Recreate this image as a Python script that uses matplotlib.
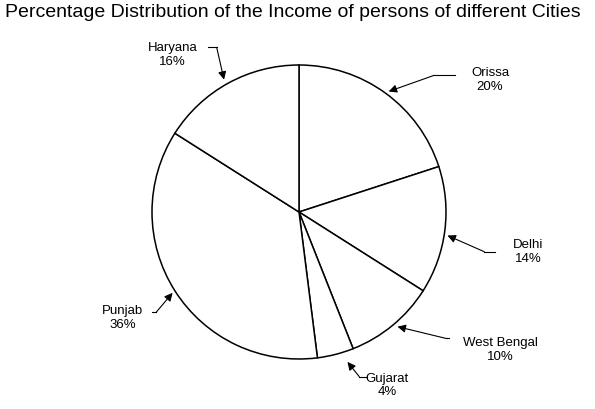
import matplotlib
matplotlib.use("Agg")
import matplotlib.pyplot as plt

cities = ["Orissa", "Delhi", "West Bengal", "Gujarat", "Punjab", "Haryana"]
shares = [20, 14, 10, 4, 36, 16]

fig = plt.figure(figsize=(5.95, 4.09), dpi=100)
fig.text(0.008, 0.99, "Percentage Distribution of the Income of persons of different Cities",
         fontsize=14, va="top", ha="left", family="Liberation Sans")
ax = fig.add_axes([(299-147)/595, (197-147)/409, 294/595, 294/409])
ax.pie(shares, startangle=90, counterclock=False, radius=1,
       colors=["white"]*len(shares), wedgeprops=dict(edgecolor="black", linewidth=1.1))
ax.set_xlim(-1, 1); ax.set_ylim(-1, 1); ax.set_aspect("equal"); ax.axis("off")

text_pos = [(1.30, 0.90), (1.56, -0.27), (1.37, -0.94), (0.60, -1.18), (-1.20, -0.72), (-0.86, 1.07)]
line_start = [(1.06, 0.93), (1.33, -0.27), (1.02, -0.86), (0.46, -1.12), (-1.00, -0.68), (-0.62, 1.12)]
elbow = [(0.92, 0.93), (1.26, -0.27), (1.00, -0.86), (0.41, -1.12), (-0.97, -0.68), (-0.56, 1.12)]
arrow_pos = [(0.61, 0.82), (1.01, -0.16), (0.67, -0.78), (0.33, -1.02), (-0.86, -0.55), (-0.51, 0.90)]
for c, s, tp, st, el, ap in zip(cities, shares, text_pos, line_start, elbow, arrow_pos):
    ax.text(tp[0], tp[1], f"{c}\n{s}%", ha="center", va="center",
            fontsize=9.5, family="Liberation Sans", clip_on=False)
    ax.plot([st[0], el[0]], [st[1], el[1]], color="black", lw=0.8, clip_on=False)
    ax.annotate("", xy=ap, xytext=el, annotation_clip=False,
                arrowprops=dict(arrowstyle="-|>", color="black", lw=0.8,
                                shrinkA=0, shrinkB=0, mutation_scale=12))
fig.savefig("out.png", dpi=100)
